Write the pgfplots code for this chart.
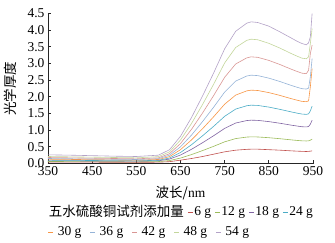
\documentclass[border=0pt]{standalone}
\usepackage{fontspec}
\setmainfont{Liberation Serif}
\newfontfamily\song{Noto Sans CJK SC}
\usepackage{pgfplots}
\usepackage{pgfplotstable}
\pgfplotsset{compat=1.18}
\definecolor{cA}{HTML}{C0504D}
\definecolor{cB}{HTML}{9BBB59}
\definecolor{cC}{HTML}{8064A2}
\definecolor{cD}{HTML}{4BACC6}
\definecolor{cE}{HTML}{F79646}
\definecolor{cF}{HTML}{95B3D7}
\definecolor{cG}{HTML}{D99694}
\definecolor{cH}{HTML}{C3D69B}
\definecolor{cI}{HTML}{B3A2C7}
\pgfplotstableread{
x c6 c12 c18 c24 c30 c36 c42 c48 c54
350 0.040 0.060 0.080 0.100 0.130 0.150 0.180 0.210 0.260
400 0.040 0.058 0.078 0.095 0.122 0.142 0.170 0.200 0.250
450 0.040 0.055 0.075 0.090 0.115 0.135 0.160 0.190 0.235
500 0.037 0.052 0.072 0.085 0.108 0.128 0.150 0.180 0.220
550 0.035 0.050 0.070 0.080 0.100 0.120 0.140 0.170 0.210
600 0.040 0.058 0.082 0.097 0.121 0.145 0.171 0.206 0.250
625 0.055 0.088 0.132 0.164 0.205 0.247 0.293 0.348 0.412
650 0.100 0.163 0.255 0.330 0.415 0.500 0.599 0.704 0.816
675 0.150 0.268 0.427 0.564 0.709 0.854 1.027 1.202 1.382
700 0.210 0.388 0.624 0.832 1.045 1.259 1.517 1.772 2.028
725 0.280 0.515 0.833 1.115 1.402 1.689 2.037 2.377 2.715
750 0.350 0.650 1.054 1.416 1.780 2.144 2.588 3.018 3.442
775 0.400 0.748 1.214 1.633 2.053 2.473 2.986 3.481 3.967
800 0.425 0.793 1.288 1.733 2.179 2.625 3.169 3.694 4.210
810 0.430 0.800 1.300 1.750 2.200 2.650 3.200 3.730 4.250
825 0.430 0.796 1.294 1.742 2.190 2.637 3.185 3.712 4.230
850 0.415 0.774 1.257 1.692 2.127 2.561 3.093 3.605 4.120
875 0.400 0.744 1.208 1.625 2.043 2.460 2.970 3.463 3.950
900 0.380 0.710 1.152 1.550 1.948 2.346 2.833 3.303 3.770
915 0.370 0.691 1.122 1.508 1.896 2.283 2.756 3.214 3.660
925 0.365 0.680 1.103 1.483 1.864 2.245 2.710 3.160 3.600
935 0.360 0.676 1.097 1.474 1.854 2.233 2.695 3.143 3.560
940 0.365 0.680 1.110 1.490 1.880 2.260 2.800 3.200 3.620
944 0.370 0.700 1.180 1.580 2.300 2.600 3.300 3.600 3.800
948 0.380 0.730 1.300 1.720 2.850 3.150 3.550 4.050 4.500
}\datatable
\begin{document}
\begin{tikzpicture}[font=\fontsize{13.5}{16}\selectfont]
\begin{axis}[
  name=main,
  scale only axis, width=265pt, height=150pt,
  at={(0,0)}, anchor=south west,
  xmin=350, xmax=950, ymin=0, ymax=4.5,
  axis lines=left,
  axis line style={-, line width=0.9pt, color=black!85},
  xtick={350,450,...,950},
  ytick={0,0.5,...,4.5},
  tick align=inside,
  major tick length=3.5pt,
  tick style={line width=0.9pt, color=black!85},
  /pgf/number format/assume math mode=true,
  yticklabel style={/pgf/number format/.cd, fixed, fixed zerofill, precision=1},
  xticklabel style={yshift=1pt},
  xlabel={\song 波长/\rmfamily nm},
  ylabel={\song 光学厚度},
  xlabel style={at={(axis description cs:0.5,-0.197)}, anchor=center},
  ylabel style={at={(axis description cs:-0.143,0.5)}, anchor=center},
  legend style={at={(0,-0.323)}, anchor=west, draw=none, fill=none,
    inner sep=0pt, outer sep=0pt, nodes={inner sep=0.5pt},
    /tikz/every odd column/.append style={column sep=0.5pt},
    /tikz/every even column/.append style={column sep=3pt}},
  legend columns=-1,
  legend cell align=left,
  legend image code/.code={\draw[#1, line width=0.8pt] (0pt,0pt) -- (5pt,0pt);},
  every axis plot/.append style={line width=0.6pt},
]
\addlegendimage{empty legend}
\addlegendentry{\song 五水硫酸铜试剂添加量\hspace{1pt}}
\addplot[cA] table[x=x,y=c6] {\datatable};
\addlegendentry{6 g}
\addplot[cB] table[x=x,y=c12] {\datatable};
\addlegendentry{12 g}
\addplot[cC] table[x=x,y=c18] {\datatable};
\addlegendentry{18 g}
\addplot[cD] table[x=x,y=c24] {\datatable};
\addlegendentry{24 g}
\addplot[cE] table[x=x,y=c30] {\datatable};
\addplot[cF] table[x=x,y=c36] {\datatable};
\addplot[cG] table[x=x,y=c42] {\datatable};
\addplot[cH] table[x=x,y=c48] {\datatable};
\addplot[cI] table[x=x,y=c54] {\datatable};
\end{axis}
\begin{axis}[
  scale only axis, width=265pt, height=150pt,
  at={(0,0)}, anchor=south west,
  xmin=0, xmax=1, ymin=0, ymax=1,
  hide axis,
  legend style={at={(0,-0.457)}, anchor=west, draw=none, fill=none,
    inner sep=0pt, outer sep=0pt, nodes={inner sep=0.5pt},
    /tikz/every odd column/.append style={column sep=3.5pt},
    /tikz/every even column/.append style={column sep=8pt}},
  legend columns=-1,
  legend cell align=left,
  legend image code/.code={\draw[#1, line width=0.8pt] (0pt,0pt) -- (5pt,0pt);},
]
\addlegendimage{cE}\addlegendentry{30 g}
\addlegendimage{cF}\addlegendentry{36 g}
\addlegendimage{cG}\addlegendentry{42 g}
\addlegendimage{cH}\addlegendentry{48 g}
\addlegendimage{cI}\addlegendentry{54 g}
\end{axis}
\path (-48pt,-78.5pt) rectangle (287pt,163.5pt);
\end{tikzpicture}
\end{document}
